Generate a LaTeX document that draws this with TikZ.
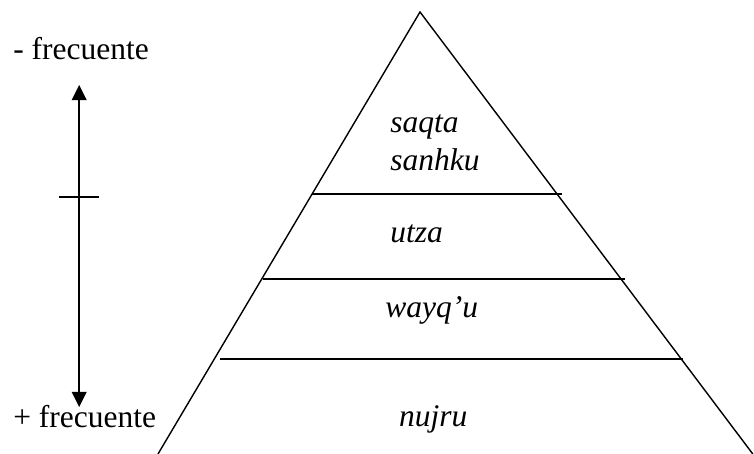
\documentclass[tikz,border=0pt]{standalone}
\usepackage{fontspec}
\setmainfont{Liberation Serif}[ItalicFont={Liberation Serif Italic}]
\usetikzlibrary{arrows.meta,positioning}

\tikzset{
    word/.style={inner sep=0pt, anchor=base west, font=\fontsize{22.4}{27}\selectfont\itshape},
    side/.style={inner sep=0pt, anchor=base west, font=\fontsize{22.4}{27}\selectfont},
    band/.style={line width=1.3pt},
}

\begin{document}
\begin{tikzpicture}
    \useasboundingbox (0,0) rectangle (18.85,11.35);

    % pyramid
    \coordinate (apex) at (10.5,11.05);
    \coordinate (bl) at (3.95,0);
    \coordinate (br) at (18.82,0);
    \draw[line width=1pt] (bl) -- (apex) -- (br);

    % layers
    \draw[band] (7.81,6.5) -- (14.04,6.5);
    \draw[band] (6.575,4.375) -- (15.625,4.375);
    \draw[band] (5.5,2.375) -- (17.075,2.375);

    \node[word] (saqta) at (9.75,8.025) {saqta};
    \node[word] (sanhku) at (9.75,7.075) {sanhku};
    \node[word] (utza) at (9.75,5.275) {utza};
    \node[word] (wayqu) at (9.63,3.4) {wayq’u};
    \node[word] (nujru) at (9.97,0.675) {nujru};

    % frequency scale
    \node[side] (less) at (0.325,9.85) {- frecuente};
    \node[side] (more) at (0.325,0.6625) {+ frecuente};
    \coordinate (top) at (1.98,9.225);
    \coordinate (bottom) at (1.98,1.175);
    \draw[line width=1.1pt, {Triangle[length=0.38cm,width=0.37cm]}-{Triangle[length=0.38cm,width=0.37cm]}] (bottom) -- (top);
    \draw[line width=1.1pt] (1.475,6.425) -- (2.47,6.425);
\end{tikzpicture}
\end{document}
